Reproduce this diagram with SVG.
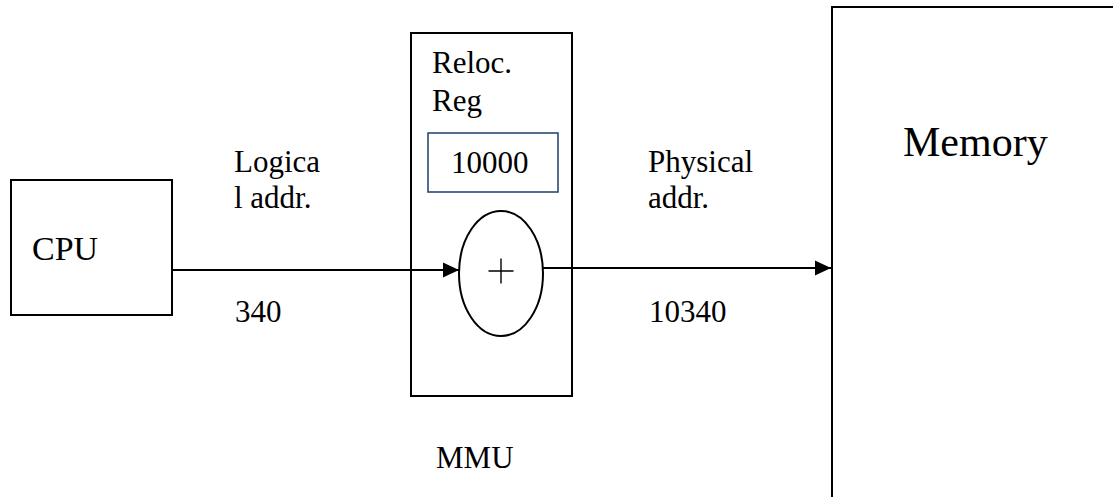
<svg xmlns="http://www.w3.org/2000/svg" width="1113" height="497" viewBox="0 0 1113 497">
<style>
.box{fill:#fff;stroke:#000;stroke-width:2}
.t{font-family:'Liberation Serif','Times New Roman',Times,Tinos,'Noto Serif','DejaVu Serif',FreeSerif,serif;font-size:31px;fill:#000}
.ln{stroke:#000;stroke-width:2;fill:none}
</style>
<defs>
<marker id="ah" markerWidth="16" markerHeight="16" viewBox="0 0 16 16" refX="16" refY="8" orient="auto" markerUnits="userSpaceOnUse">
<path d="M0,0.5 L16,8 L0,15.5 Z" fill="#000"/>
</marker>
</defs>
<rect width="1113" height="497" fill="#fff"/>
<g id="cpu">
<rect class="box" x="11" y="180" width="161" height="135"/>
<text class="t" x="32" y="260" style="font-size:34px">CPU</text>
</g>
<g id="mmu">
<rect class="box" x="411" y="33" width="161" height="363"/>
<text class="t" x="432" y="73">Reloc.</text>
<text class="t" x="432" y="111">Reg</text>
<text class="t" x="436" y="468">MMU</text>
</g>
<g id="reloc-reg">
<rect x="428" y="133" width="130" height="59" fill="#fff" stroke="#2b4a74" stroke-width="1.6"/>
<text class="t" x="451" y="173">10000</text>
</g>
<g id="adder">
<ellipse class="box" cx="501" cy="273.5" rx="42" ry="62.5"/>
<path d="M488.5,271 H513.5 M501,258.5 V283.5" stroke="#000" stroke-width="1.4" fill="none"/>
</g>
<g id="memory">
<rect class="box" x="832" y="7" width="300" height="500"/>
<text class="t" x="903" y="156" style="font-size:42px">Memory</text>
</g>
<g id="connectors">
<line class="ln" x1="172" y1="270" x2="459" y2="270" marker-end="url(#ah)"/>
<line class="ln" x1="543" y1="268" x2="831" y2="268" marker-end="url(#ah)"/>
</g>
<g id="labels">
<text class="t" x="234" y="172">Logica</text>
<text class="t" x="234" y="208">l addr.</text>
<text class="t" x="235" y="322">340</text>
<text class="t" x="648" y="172">Physical</text>
<text class="t" x="648" y="208">addr.</text>
<text class="t" x="649" y="322">10340</text>
</g>
</svg>
